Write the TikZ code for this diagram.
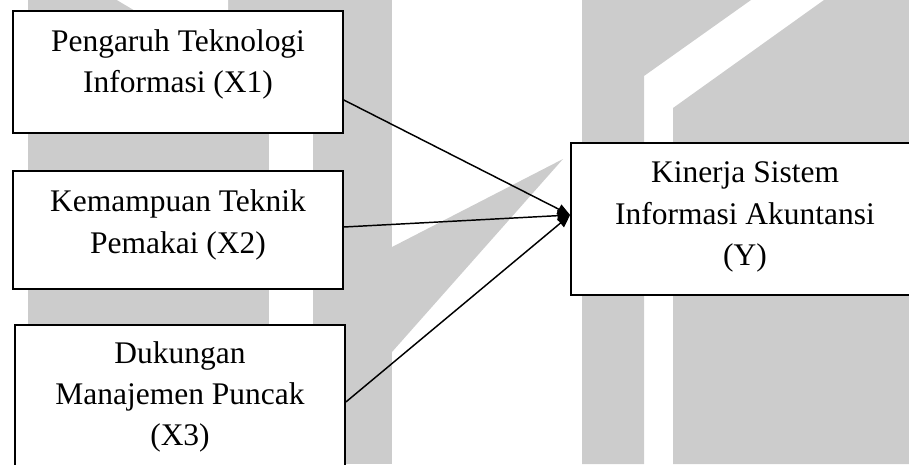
\documentclass[tikz,border=0pt]{standalone}
\usepackage{fontspec}
\setmainfont{Liberation Serif}
\usetikzlibrary{arrows.meta}
\usetikzlibrary{positioning}

\begin{document}
\begin{tikzpicture}[x=0.75pt, y=-0.75pt, auto]
    \tikzstyle{box} = [rectangle, draw, fill=white, line width=1.3pt, inner sep=0pt]
    \tikzstyle{txt} = [align=center, inner sep=0pt, font=\fontsize{23.6}{31}\selectfont]
    \tikzstyle{logo} = [fill=gray!40, draw=none]
    \tikzstyle{link} = [line width=1.1pt, -{Triangle[length=9.5pt, width=8pt]}]

    \useasboundingbox (0,0) rectangle (909,464);
    \clip (0,0) rectangle (909,464);

    % watermark in the back
    \fill [logo] (28,0) rectangle (392,464);
    \fill [white] (269,11) rectangle (313,464);
    \fill [white] (117,0) -- (228,0) -- (228,66) -- cycle;
    \fill [logo] (392,247) -- (563,159) -- (392,352) -- cycle;
    \fill [logo] (582,0) -- (751,0) -- (644,76) -- (644,464) -- (582,464) -- cycle;
    \fill [logo] (824,0) -- (909,0) -- (909,464) -- (673,464) -- (673,108) -- cycle;

    % variables
    \node [box, minimum width=247.5pt, minimum height=91.5pt] (x1) at (178,72) {};
    \node [box, minimum width=247.5pt, minimum height=88.5pt] (x2) at (178,230) {};
    \node [box, minimum width=247.5pt, minimum height=120pt] (x3) at (180,405) {};
    \node [box, minimum width=261.75pt, minimum height=114pt] (y) at (745.5,219) {};

    \node [txt] (x1text) at (178,64.6) {Pengaruh Teknologi\\Informasi (X1)};
    \node [txt] (x2text) at (178,225) {Kemampuan Teknik\\Pemakai (X2)};
    \node [txt] (x3text) at (180,397) {Dukungan\\Manajemen Puncak\\(X3)};
    \node [txt] (ytext) at (745,217) {Kinerja Sistem\\Informasi Akuntansi\\(Y)};

    \coordinate (hub) at (y.west |- 0,215);

    \draw [link] (x1.east |- 0,100) -- (hub);
    \draw [link] (x2.east |- 0,227) -- (hub);
    \draw [link] (x3.east |- 0,402) -- (hub);
\end{tikzpicture}
\end{document}
